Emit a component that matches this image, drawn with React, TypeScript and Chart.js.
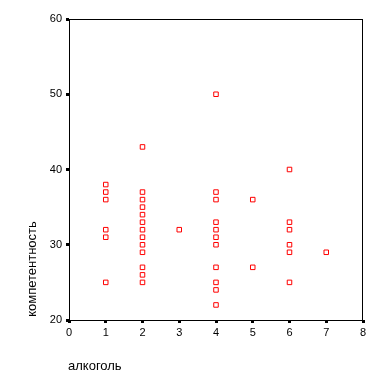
import React, { useEffect, useRef } from "react";
import { Chart, registerables } from "chart.js";

Chart.register(...registerables);

// alcohol (x) and competence (y) pairs
const alcohol = [
  1, 1, 1, 1, 1, 1,
  2, 2, 2, 2, 2, 2, 2, 2, 2, 2, 2, 2, 2,
  3,
  4, 4, 4, 4, 4, 4, 4, 4, 4, 4, 4,
  5, 5,
  6, 6, 6, 6, 6, 6,
  7,
];
const competence = [
  38, 37, 36, 32, 31, 25,
  43, 37, 36, 35, 34, 33, 32, 31, 30, 29, 27, 26, 25,
  32,
  50, 37, 36, 33, 32, 31, 30, 27, 25, 24, 22,
  36, 27,
  40, 33, 32, 30, 29, 25,
  29,
];
const xTitle = "алкоголь";
const yTitle = "компетентность";

const FONT = "Arial, 'Liberation Sans', sans-serif";

export default function App() {
  const ref = useRef<HTMLCanvasElement | null>(null);
  useEffect(() => {
    if (!ref.current) return;
    const data = alcohol.map((x, i) => ({ x, y: competence[i] }));
    const framePlugin = {
      id: "frame",
      afterDraw(chart: any) {
        const { ctx, chartArea } = chart;
        const l = Math.round(chartArea.left) + 0.5;
        const t = Math.round(chartArea.top) + 0.5;
        const r = Math.round(chartArea.right) - 0.5;
        const b = Math.round(chartArea.bottom) + 0.5;
        ctx.save();
        ctx.strokeStyle = "#000";
        ctx.lineWidth = 1;
        ctx.strokeRect(l, t, r - l, b - t);
        ctx.fillStyle = "#000";
        ctx.font = `13px ${FONT}`;
        ctx.textAlign = "left";
        ctx.textBaseline = "middle";
        ctx.fillText(xTitle, 68, 366);
        ctx.translate(32, 269);
        ctx.rotate(-Math.PI / 2);
        ctx.textAlign = "center";
        ctx.fillText(yTitle, 0, 0);
        ctx.restore();
      },
    };
    const chart = new Chart(ref.current, {
      type: "scatter",
      data: {
        datasets: [
          {
            data,
            pointStyle: "rect",
            pointRadius: 3.2,
            pointHoverRadius: 3.2,
            borderColor: "#ff0000",
            backgroundColor: "#ffffff",
            borderWidth: 1,
          },
        ],
      },
      options: {
        responsive: false,
        animation: false,
        events: [],
        layout: { padding: { left: 49, right: 21, top: 19, bottom: 50 } },
        plugins: { legend: { display: false }, tooltip: { enabled: false } },
        scales: {
          x: {
            type: "linear",
            min: 0,
            max: 8,
            afterFit: (s: any) => {
              s.height = 22;
            },
            ticks: { stepSize: 1, color: "#000", font: { family: FONT, size: 11 }, padding: 3, maxRotation: 0 },
            grid: { drawOnChartArea: false, tickLength: 3, tickWidth: 3, tickColor: "#000" },
            border: { display: false },
          },
          y: {
            type: "linear",
            min: 20,
            max: 60,
            afterFit: (s: any) => {
              s.width = 20;
            },
            ticks: { stepSize: 10, color: "#000", font: { family: FONT, size: 11 }, padding: 4 },
            grid: { drawOnChartArea: false, tickLength: 3, tickWidth: 3, tickColor: "#000" },
            border: { display: false },
          },
        },
      },
      plugins: [framePlugin],
    });
    return () => chart.destroy();
  }, []);
  return (
    <div style={{ position: "fixed", left: 0, top: 0, width: 384, height: 392, background: "#fff" }}>
      <canvas ref={ref} width={384} height={392} style={{ display: "block" }} />
    </div>
  );
}
